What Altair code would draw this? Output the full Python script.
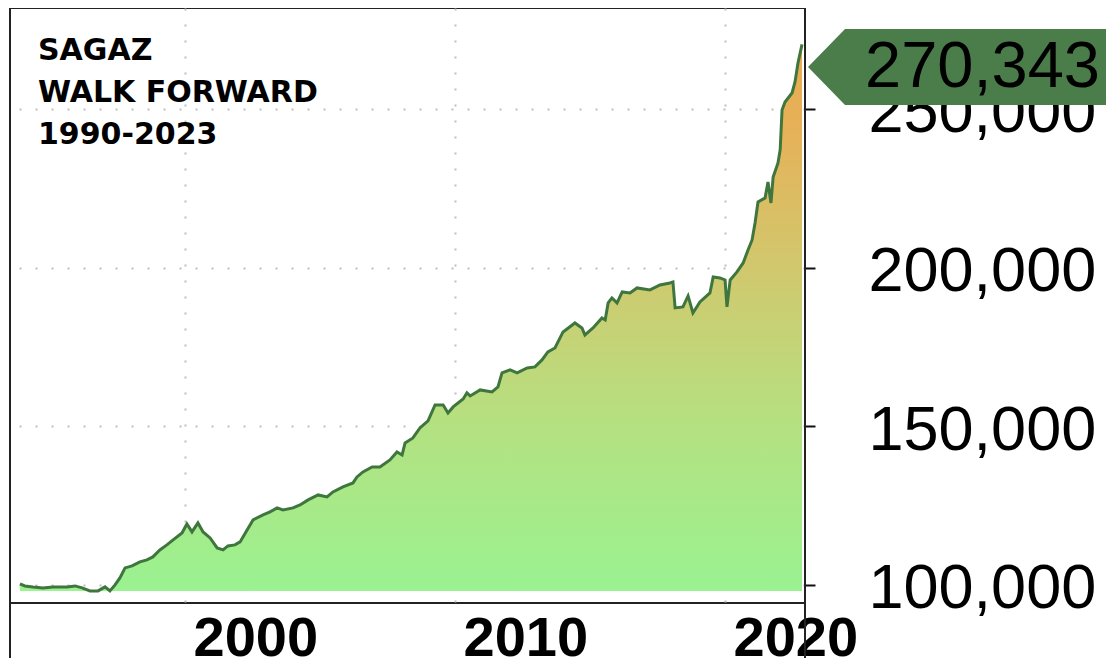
import altair as alt
import pandas as pd

# Equity curve (decimal year, account value)
years = [1993.89, 1994.07, 1994.37, 1994.74, 1995.11, 1995.63, 1995.93, 1996.19, 1996.48, 1996.78,
         1997.04, 1997.22, 1997.41, 1997.59, 1997.78, 1998.04, 1998.33, 1998.59, 1998.81, 1999.07,
         1999.33, 1999.56, 1999.89, 2000.07, 2000.26, 2000.48, 2000.67, 2000.93, 2001.19, 2001.41,
         2001.59, 2001.85, 2002.04, 2002.30, 2002.52, 2002.89, 2003.15, 2003.41, 2003.63, 2004.00,
         2004.26, 2004.56, 2004.93, 2005.26, 2005.48, 2005.85, 2006.22, 2006.37, 2006.59, 2006.93,
         2007.22, 2007.59, 2007.85, 2008.04, 2008.15, 2008.44, 2008.70, 2009.00, 2009.26, 2009.56,
         2009.74, 2009.93, 2010.30, 2010.44, 2010.56, 2010.93, 2011.37, 2011.59, 2011.74, 2012.04,
         2012.30, 2012.67, 2012.96, 2013.22, 2013.44, 2013.70, 2014.00, 2014.44, 2014.70, 2014.81,
         2015.11, 2015.44, 2015.56, 2015.67, 2015.81, 2016.00, 2016.19, 2016.48, 2016.74, 2017.22,
         2017.59, 2017.96, 2018.07, 2018.15, 2018.44, 2018.63, 2018.81, 2019.07, 2019.44, 2019.56,
         2019.81, 2020.00, 2020.07, 2020.19, 2020.44, 2020.67, 2020.85, 2021.00, 2021.11, 2021.22,
         2021.48, 2021.59, 2021.70, 2021.78, 2021.96, 2022.04, 2022.11, 2022.22, 2022.48, 2022.59,
         2022.70, 2022.85]
values = [100315, 99685, 99370, 99055, 99370, 99370, 99685, 99055, 98109, 98109,
          99370, 98109, 100000, 102206, 105357, 105987, 107247, 107878, 108823, 111029,
          112604, 114180, 116385, 119221, 116700, 119536, 116700, 114810, 111659, 111029,
          112289, 112604, 113549, 117331, 120482, 122057, 123002, 124263, 123633, 124263,
          125208, 126784, 128359, 127729, 129304, 130880, 132140, 134031, 135606, 137182,
          137182, 139388, 141908, 140963, 144744, 146320, 149471, 151676, 156718, 156718,
          154197, 156088, 158609, 160499, 159554, 161445, 160815, 162390, 166801, 167747,
          166801, 168377, 168692, 170898, 173418, 174679, 179720, 182556, 180981, 178775,
          180981, 184132, 183502, 188858, 190434, 188858, 192324, 192009, 193585, 192955,
          194530, 195160, 195475, 187283, 187598, 191064, 185707, 189173, 192009, 197051,
          196736, 196106, 187598, 196106, 198626, 201462, 205559, 208710, 214066, 220683,
          221944, 226985, 220368, 228561, 232972, 237069, 249673, 252193, 255029, 258495,
          264482, 270343]

title_lines = ["SAGAZ", "WALK FORWARD", "1990-2023"]
x_ticks = [2000, 2010, 2020]
y_ticks = [100000, 150000, 200000, 250000]

df = pd.DataFrame({"year": years, "value": values})
base_value = min(values)
last_df = pd.DataFrame({"value": [values[-1]]})
one = pd.DataFrame({"k": [0]})

W, H = 795, 595
xs = alt.Scale(domain=[1993.52, 2022.96], nice=False, zero=False)
ys = alt.Scale(domain=[94300, 281800], nice=False, zero=False)

grid_kw = dict(grid=True, gridColor="#bdbdbd", gridDash=[2, 14], gridWidth=2)

x_axis = alt.Axis(values=x_ticks, format="d", title=None, ticks=False, tickSize=0,
                  domain=False, labelFont="Liberation Sans", labelFontSize=56,
                  labelFontWeight="bold", labelColor="black", labelAlign="left",
                  labelBaseline="alphabetic", labelPadding=52, labelOffset=8,
                  labelFlush=False, labelOverlap=False, labelLimit=0, **grid_kw)
y_axis = alt.Axis(orient="right", values=y_ticks, format=",d", title=None, domain=False,
                  ticks=True, tickColor="#111111", tickSize=10, tickWidth=2,
                  labelFont="Liberation Sans", labelFontSize=63, labelColor="black",
                  labelAlign="left", labelBaseline="middle", labelPadding=53,
                  labelOffset=4, labelFlush=False, labelOverlap=False, labelLimit=0,
                  **grid_kw)

grad = alt.Gradient(
    gradient="linear", x1=0, y1=1, x2=0, y2=0,
    stops=[
        alt.GradientStop(offset=0.0, color="#9af291"),
        alt.GradientStop(offset=0.3, color="#b4e181"),
        alt.GradientStop(offset=0.6, color="#d2c76d"),
        alt.GradientStop(offset=0.85, color="#e6b158"),
        alt.GradientStop(offset=1.0, color="#e9aa50"),
    ],
)

area = alt.Chart(df).mark_area(color=grad, opacity=1).encode(
    x=alt.X("year:Q", scale=xs, axis=x_axis),
    y=alt.Y("value:Q", scale=ys, axis=y_axis),
    y2=alt.datum(base_value),
)

line = alt.Chart(df).mark_line(color="#3e763e", strokeWidth=3).encode(
    x="year:Q", y="value:Q"
)

tag_path = "M -1 0 L -0.758 -0.248 L 1 -0.248 L 1 0.248 L -0.758 0.248 Z"
tag = alt.Chart(one).mark_point(shape=tag_path, size=306 ** 2, filled=True,
                                color="#4b7d4b", opacity=1, strokeWidth=0).encode(
    x=alt.value(951), y=alt.value(59)
)

tag_text = alt.Chart(last_df).mark_text(font="Liberation Sans", fontSize=65, align="left",
                                        baseline="alphabetic", color="black").encode(
    x=alt.value(855), y=alt.value(79), text=alt.Text("value:Q", format=",d")
)

title = alt.Chart(one).mark_text(font="DejaVu Sans", fontSize=30, fontWeight="bold",
                                 align="left", baseline="alphabetic", lineHeight=42,
                                 color="black").encode(
    x=alt.value(28), y=alt.value(52), text=alt.value(title_lines)
)

rule_kw = dict(color="#222222", strokeWidth=2)
left_ext = alt.Chart(one).mark_rule(**rule_kw).encode(
    x=alt.value(0), y=alt.value(0), y2=alt.value(660))
right_ext = alt.Chart(one).mark_rule(**rule_kw).encode(
    x=alt.value(W), y=alt.value(0), y2=alt.value(660))
top_ext = alt.Chart(one).mark_rule(**rule_kw).encode(
    y=alt.value(-1), x=alt.value(0), x2=alt.value(1110))

chart = alt.layer(area, line, tag, tag_text, title, left_ext, right_ext, top_ext).properties(
    width=W, height=H,
    padding={"left": 2, "top": 0, "right": 301, "bottom": 55},
    autosize=alt.AutoSizeParams(type="none"),
).configure_view(stroke="#222222", strokeWidth=2)

chart.save("out.html", embed_options={"renderer": "svg", "actions": False})
